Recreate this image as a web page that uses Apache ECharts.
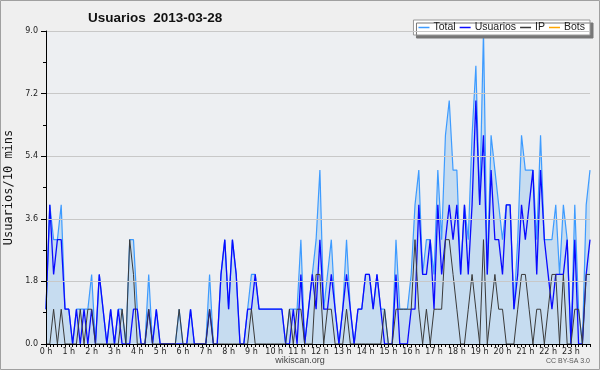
<!DOCTYPE html>
<html>
<head>
<meta charset="utf-8">
<script src="https://cdn.jsdelivr.net/npm/echarts@6/dist/echarts.min.js"></script>
<style>
html,body{margin:0;padding:0;background:#efefef;}
#c{width:600px;height:370px;}
</style>
</head>
<body>
<div id="c"></div>
<script>
const hourLabels = ['0 h','1 h','2 h','3 h','4 h','5 h','6 h','7 h','8 h','9 h','10 h','11 h',
  '12 h','13 h','14 h','15 h','16 h','17 h','18 h','19 h','20 h','21 h','22 h','23 h'];
const yTicks = [0, 1.8, 3.6, 5.4, 7.2, 9.0];

const total = [
  1,4,3,3,4,1,1,0,1,1,1,1,
  2,0,2,1,0,1,0,1,1,0,3,3,
  1,0,0,2,0,1,0,0,0,0,0,1,
  0,0,1,0,0,0,0,2,0,0,2,3,
  1,3,2,0,0,1,2,2,1,1,1,1,
  1,1,1,0,1,1,1,3,0,1,2,3,
  5,1,2,3,1,0,1,3,1,0,1,1,
  2,2,1,2,1,1,0,0,3,1,1,1,
  2,4,5,2,3,3,2,5,3,6,7,5,
  5,2,4,3,6,8,4,9,2,6,5,4,
  3,4,4,1,3,6,5,5,5,3,6,3,
  3,3,4,2,4,3,0,4,1,0,4,5
];
const usuarios = [
  1,4,2,3,3,1,1,0,1,0,1,0,
  1,0,2,1,0,1,0,1,0,0,0,1,
  1,0,0,1,0,1,0,0,0,0,0,0,
  0,0,1,0,0,0,0,1,0,0,2,3,
  1,3,2,0,0,1,1,2,1,1,1,1,
  1,1,1,0,0,1,0,2,0,1,2,1,
  3,1,1,2,1,0,1,2,1,0,1,1,
  2,2,1,2,1,0,0,0,2,0,0,0,
  1,1,4,2,2,3,1,4,2,3,4,3,
  4,2,4,2,4,7,4,6,2,5,3,3,
  2,4,4,1,2,4,3,4,5,2,5,3,
  2,1,2,2,2,3,0,3,0,0,2,3
];
const ip = [
  0,0,1,0,1,0,0,0,0,1,0,1,
  1,0,0,0,0,0,0,0,1,0,3,2,
  0,0,0,1,0,0,0,0,0,0,0,1,
  0,0,0,0,0,0,0,1,0,0,0,0,
  0,0,0,0,0,0,1,0,0,0,0,0,
  0,0,0,0,1,0,1,1,0,0,0,2,
  2,0,1,1,0,0,0,1,0,0,0,0,
  0,0,0,0,0,1,0,0,1,1,1,1,
  1,3,1,0,1,0,1,1,1,3,3,2,
  1,0,0,1,2,1,0,3,0,1,2,1,
  1,0,0,0,1,2,2,1,0,1,1,0,
  1,2,2,0,2,0,0,1,1,0,2,2
];
const bots = [
  0,0,0,0,0,0,0,0,0,0,0,0,
  0,0,0,0,0,0,0,0,0,0,0,0,
  0,0,0,0,0,0,0,0,0,0,0,0,
  0,0,0,0,0,0,0,0,0,0,0,0,
  0,0,0,0,0,0,0,0,0,0,0,0,
  0,0,0,0,0,0,0,0,0,0,0,0,
  0,0,0,0,0,0,0,0,0,0,0,0,
  0,0,0,0,0,0,0,0,0,0,0,0,
  0,0,0,0,0,0,0,0,0,0,0,0,
  0,0,0,0,0,0,0,0,0,0,0,0,
  0,0,0,0,0,0,0,0,0,0,0,0,
  0,0,0,0,0,0,0,0,0,0,0,0
];

// 10-minute slots as categories
const slots = [];
for (let h = 0; h < 24; h++) for (let m = 0; m < 60; m += 10) slots.push(h + ':' + (m < 10 ? '0' : '') + m);

const chart = echarts.init(document.getElementById('c'), null, {renderer: 'canvas'});
chart.setOption({
  animation: false,
  backgroundColor: '#efefef',
  title: {
    text: 'Usuarios  2013-03-28',
    left: 83, top: 6,
    textStyle: {fontFamily: 'Liberation Sans', fontWeight: 'bold', fontSize: 13.5, color: '#111'}
  },
  legend: {
    right: 10, top: 20,
    itemWidth: 11, itemHeight: 1.5, itemGap: 4, icon: 'rect',
    padding: [2, 5, 2, 5],
    backgroundColor: '#ffffff', borderColor: '#999', borderWidth: 1,
    shadowColor: '#777', shadowBlur: 0, shadowOffsetX: 3, shadowOffsetY: 3,
    textStyle: {fontFamily: 'Liberation Sans', fontSize: 10.5, color: '#222', padding: [0, 0, 0, -1]},
    data: ['Total', 'Usuarios', 'IP', 'Bots']
  },
  grid: {left: 46, right: 10, top: 31, bottom: 26, show: true, backgroundColor: '#edeff2', borderWidth: 0,
    containLabel: false, outerBoundsMode: 'none'},
  xAxis: {
    type: 'category', data: slots, boundaryGap: false, z: 5,
    axisLine: {lineStyle: {color: '#000', width: 1}},
    axisTick: {interval: 0, length: 3, lineStyle: {color: '#000'}},
    axisLabel: {
      interval: (i) => i % 6 === 0,
      formatter: (v, i) => hourLabels[Math.floor(i / 6)],
      fontFamily: 'DejaVu Sans', fontSize: 8, color: '#222', margin: 4
    },
    splitLine: {show: false}
  },
  yAxis: {
    type: 'value', min: 0, max: 9, interval: 1.8, z: 5,
    name: 'Usuarios/10 mins', nameLocation: 'middle', nameGap: 31,
    nameTextStyle: {fontFamily: 'DejaVu Sans Mono', fontSize: 12, color: '#111'},
    axisLine: {show: true, lineStyle: {color: '#000', width: 1}},
    axisTick: {show: true, length: 5, lineStyle: {color: '#000'}},
    minorTick: {show: true, splitNumber: 2, length: 3, lineStyle: {color: '#000'}},
    axisLabel: {formatter: (v) => v.toFixed(1), fontFamily: 'DejaVu Sans', fontSize: 8, color: '#222', margin: 8},
    splitLine: {lineStyle: {color: '#c8c8c8', width: 1}}
  },
  series: [
    {name: 'Total', type: 'line', data: total, symbol: 'none', z: 2,
      lineStyle: {color: '#3d9bff', width: 1.2}, itemStyle: {color: '#3d9bff'},
      areaStyle: {color: '#c6dcf0', opacity: 1}},
    {name: 'Usuarios', type: 'line', data: usuarios, symbol: 'none', z: 3,
      lineStyle: {color: '#0a0aff', width: 1.3}, itemStyle: {color: '#0a0aff'}},
    {name: 'IP', type: 'line', data: ip, symbol: 'none', z: 4,
      lineStyle: {color: '#3a3a3a', width: 1}, itemStyle: {color: '#3a3a3a'}},
    {name: 'Bots', type: 'line', data: bots, symbol: 'none', z: 1,
      lineStyle: {color: '#ffa500', width: 1}, itemStyle: {color: '#ffa500'}}
  ],
  graphic: [
    {type: 'rect', shape: {x: 0.5, y: 0.5, width: 599, height: 369}, style: {fill: 'none', stroke: '#a0a0a0', lineWidth: 1}, silent: true},
    {type: 'text', left: 'center', top: 356, style: {text: 'wikiscan.org', font: '9px "Liberation Sans"', fill: '#444'}},
    {type: 'text', right: 10, top: 358, style: {text: 'CC BY-SA 3.0', font: '7px "Liberation Sans"', fill: '#555'}}
  ]
});
</script>
</body>
</html>
